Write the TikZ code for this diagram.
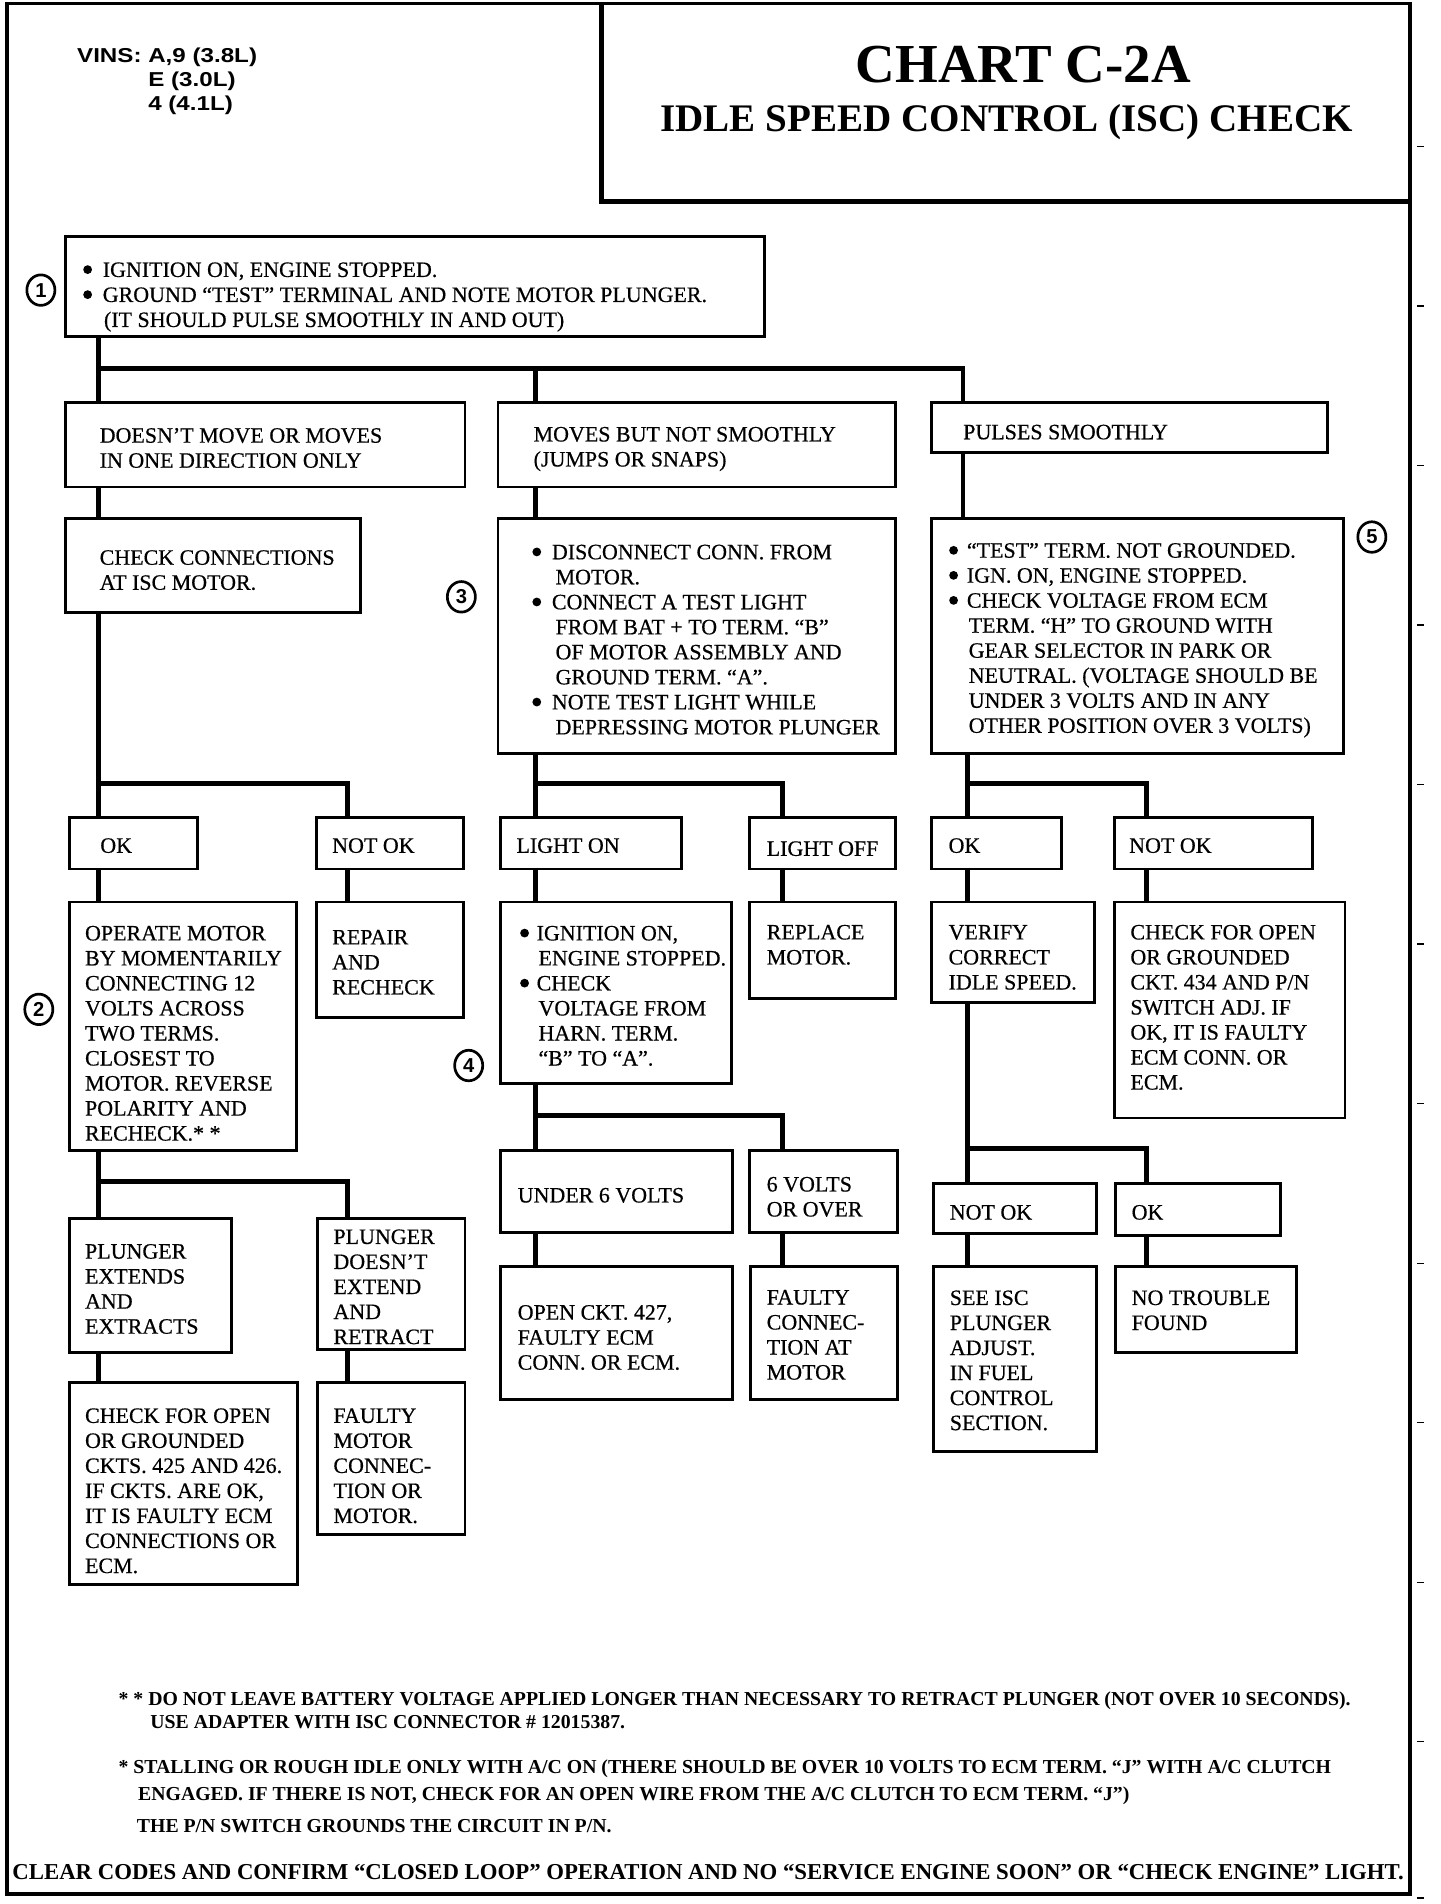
\documentclass[tikz,border=0pt]{standalone}
\usepackage{fontspec}
\usepackage{graphicx}
\setmainfont{Liberation Serif}
\newfontfamily\boxfont{Liberation Serif}[FakeBold=0.5]
\newfontfamily\hv{Liberation Sans}
\newfontfamily\vinsfont{Liberation Sans}[FakeStretch=1.2]
\usetikzlibrary{calc,shapes.geometric}

\newcommand{\bx}[5]{%
  \pgfmathsetmacro\bw{#4-#2}\pgfmathsetmacro\bh{#5-#3}%
  \pgfmathsetmacro\bcx{(#2+#4)/2}\pgfmathsetmacro\bcy{(#3+#5)/2}%
  \node[box, minimum width=\bw pt, minimum height=\bh pt] (#1) at (\bcx,\bcy) {};}
\newcommand{\tx}[4]{\pgfmathsetmacro\ty{#3-10}\node[txt] (#1) at (#2,\ty) {\rule{0pt}{16pt}#4};}
\newcommand{\bul}[1][14pt]{\makebox[#1][l]{\tikz[baseline=-6pt]\fill (3.6pt,0pt) circle (3.6pt);}}

\begin{document}
\begin{tikzpicture}[x=1pt,y=-1pt,
  box/.style={draw, line width=2.4pt, inner sep=0pt, outer sep=0pt},
  conn/.style={line width=4pt},
  txt/.style={inner sep=0pt, anchor=north west, align=left, font=\boxfont\fontsize{18}{20.5}\selectfont},
  circ/.style={ellipse, draw, line width=2.2pt, minimum width=23pt, minimum height=25pt, inner sep=0pt, font=\hv\bfseries\fontsize{16.5}{16.5}\selectfont},
  foot/.style={inner sep=0pt, anchor=base west, font=\fontsize{16.2}{18}\selectfont\bfseries},
  tickmark/.style={line width=1pt}]
\useasboundingbox (0,0) rectangle (1180,1560);
\path[fill=white] (0,0) rectangle (1180,1560);

% frame and title box
\draw[line width=3pt] (6,3) rectangle (1155,1552);
\draw[line width=4pt] (493,3) -- (493,165) -- (1155,165);
\foreach \k in {0,...,10} \draw[tickmark] (1161,{120+130.7*\k}) -- (1167,{120+130.7*\k});
\draw[tickmark] (1161,1555) -- (1167,1555);

\node[inner sep=0pt, anchor=base west, font=\fontsize{45}{50}\selectfont\bfseries] (title) at (701,68) {CHART C-2A};
\node[inner sep=0pt, anchor=base west, font=\fontsize{32}{36}\selectfont\bfseries] (subtitle) at (541,107.5) {IDLE SPEED CONTROL (ISC) CHECK};
\node[inner sep=0pt, anchor=north west, align=left, font=\vinsfont\bfseries\fontsize{16.5}{19.5}\selectfont] (vins) at (63,37) {\rule{0pt}{14pt}VINS: A,9 (3.8L)\\\phantom{VINS: }E (3.0L)\\\phantom{VINS: }4 (4.1L)};

% boxes
\bx{b1}{54}{194}{626}{276}
\bx{bA}{54}{330}{381}{399}
\bx{bB}{408}{330}{734}{399}
\bx{bC}{763}{330}{1088}{371}
\bx{bD}{54}{425}{295}{502}
\bx{bE}{408}{425}{734}{617}
\bx{bF}{763}{425}{1101}{617}
\bx{bOK1}{57}{670}{162}{712}
\bx{bNOK1}{259}{670}{380}{712}
\bx{bLON}{410}{670}{558}{712}
\bx{bLOFF}{614}{670}{734}{712}
\bx{bOK2}{763}{670}{870}{712}
\bx{bNOK2}{913}{670}{1075}{712}
\bx{bOP}{57}{739}{243}{943}
\bx{bREP}{259}{739}{380}{834}
\bx{bIGN}{410}{739}{599}{888}
\bx{bREPL}{614}{739}{734}{818}
\bx{bVER}{763}{739}{897}{821}
\bx{bCHK2}{913}{739}{1102}{916}
\bx{bPE}{57}{998}{190}{1108}
\bx{bPD}{260}{998}{381}{1106}
\bx{bU6}{410}{943}{600}{1010}
\bx{b6V}{614}{943}{735}{1010}
\bx{bNOK3}{765}{970}{898}{1011}
\bx{bOK3}{914}{970}{1049}{1012}
\bx{bCHK3}{57}{1133}{244}{1298}
\bx{bFM}{260}{1133}{381}{1257}
\bx{bOPEN}{410}{1038}{600}{1147}
\bx{bFC}{615}{1038}{735}{1147}
\bx{bSEE}{765}{1038}{898}{1189}
\bx{bNT}{914}{1038}{1062}{1108}

% connectors
\coordinate (J0) at (81,302); \coordinate (J0M) at (439,302); \coordinate (J0R) at (789,302);
\draw[conn] (b1.south -| J0) -- (bA.north -| J0);
\draw[conn] (J0) -- (J0R) -- (bC.north -| J0R);
\draw[conn] (J0M) -- (bB.north -| J0M);
\draw[conn] (bA.south -| J0) -- (bD.north -| J0);
\draw[conn] (bB.south -| J0M) -- (bE.north -| J0M);
\draw[conn] (bC.south -| J0R) -- (bF.north -| J0R);
\coordinate (J1) at (81,642); \coordinate (J1R) at (285,642);
\draw[conn] (bD.south -| J1) -- (bOK1.north -| J1);
\draw[conn] (J1) -- (J1R) -- (bNOK1.north -| J1R);
\coordinate (J2) at (439,642); \coordinate (J2R) at (641,642);
\draw[conn] (bE.south -| J2) -- (bLON.north -| J2);
\draw[conn] (J2) -- (J2R) -- (bLOFF.north -| J2R);
\coordinate (J3) at (793,642); \coordinate (J3R) at (939,642);
\draw[conn] (bF.south -| J3) -- (bOK2.north -| J3);
\draw[conn] (J3) -- (J3R) -- (bNOK2.north -| J3R);
\draw[conn] (bOK1.south -| J1) -- (bOP.north -| J1);
\draw[conn] (bNOK1.south -| J1R) -- (bREP.north -| J1R);
\draw[conn] (bLON.south -| J2) -- (bIGN.north -| J2);
\draw[conn] (bLOFF.south -| J2R) -- (bREPL.north -| J2R);
\draw[conn] (bOK2.south -| J3) -- (bVER.north -| J3);
\draw[conn] (bNOK2.south -| J3R) -- (bCHK2.north -| J3R);
\coordinate (J4) at (81,968); \coordinate (J4R) at (285,968);
\draw[conn] (bOP.south -| J4) -- (bPE.north -| J4);
\draw[conn] (J4) -- (J4R) -- (bPD.north -| J4R);
\coordinate (J5) at (439,914); \coordinate (J5R) at (641,914);
\draw[conn] (bIGN.south -| J5) -- (bU6.north -| J5);
\draw[conn] (J5) -- (J5R) -- (b6V.north -| J5R);
\coordinate (J6) at (793,941); \coordinate (J6R) at (939,941);
\draw[conn] (bVER.south -| J6) -- (bNOK3.north -| J6);
\draw[conn] (J6) -- (J6R) -- (bOK3.north -| J6R);
\draw[conn] (bPE.south -| J4) -- (bCHK3.north -| J4);
\draw[conn] (bPD.south -| J4R) -- (bFM.north -| J4R);
\draw[conn] (bU6.south -| J5) -- (bOPEN.north -| J5);
\draw[conn] (b6V.south -| J5R) -- (bFC.north -| J5R);
\draw[conn] (bNOK3.south -| J6) -- (bSEE.north -| J6);
\draw[conn] (bOK3.south -| J6R) -- (bNT.north -| J6R);

% texts
\tx{t1}{68}{220.7}{\bul[16pt]IGNITION ON, ENGINE STOPPED.\\\bul[16pt]GROUND “TEST” TERMINAL AND NOTE MOTOR PLUNGER.\\\hspace*{17pt}(IT SHOULD PULSE SMOOTHLY IN AND OUT)}
\tx{tA}{81.5}{356.5}{DOESN’T MOVE OR MOVES\\IN ONE DIRECTION ONLY}
\tx{tB}{437}{355.5}{MOVES BUT NOT SMOOTHLY\\(JUMPS OR SNAPS)}
\tx{tC}{789}{353.7}{PULSES SMOOTHLY}
\tx{tD}{81.5}{456.5}{CHECK CONNECTIONS\\AT ISC MOTOR.}
\tx{tE}{436}{452}{\bul[16pt]DISCONNECT CONN. FROM\\\hspace*{19pt}MOTOR.\\\bul[16pt]CONNECT A TEST LIGHT\\\hspace*{19pt}FROM BAT + TO TERM. “B”\\\hspace*{19pt}OF MOTOR ASSEMBLY AND\\\hspace*{19pt}GROUND TERM. “A”.\\\bul[16pt]NOTE TEST LIGHT WHILE\\\hspace*{19pt}DEPRESSING MOTOR PLUNGER}
\tx{tF}{777.5}{450.7}{\bul[14.5pt]“TEST” TERM. NOT GROUNDED.\\\bul[14.5pt]IGN. ON, ENGINE STOPPED.\\\bul[14.5pt]CHECK VOLTAGE FROM ECM\\\hspace*{16pt}TERM. “H” TO GROUND WITH\\\hspace*{16pt}GEAR SELECTOR IN PARK OR\\\hspace*{16pt}NEUTRAL. (VOLTAGE SHOULD BE\\\hspace*{16pt}UNDER 3 VOLTS AND IN ANY\\\hspace*{16pt}OTHER POSITION OVER 3 VOLTS)}
\tx{tOK1}{82}{692.5}{OK}
\tx{tNOK1}{272}{692.5}{NOT OK}
\tx{tLON}{423}{692.5}{LIGHT ON}
\tx{tLOFF}{628}{695}{LIGHT OFF}
\tx{tOK2}{777}{692.5}{OK}
\tx{tNOK2}{925}{692.5}{NOT OK}
\tx{tOP}{69.5}{764.3}{OPERATE MOTOR\\BY MOMENTARILY\\CONNECTING 12\\VOLTS ACROSS\\TWO TERMS.\\CLOSEST TO\\MOTOR. REVERSE\\POLARITY AND\\RECHECK.* *}
\tx{tREP}{272}{767.6}{REPAIR\\AND\\RECHECK}
\tx{tIGN}{426}{764.3}{\bul[13.5pt]IGNITION ON,\\\hspace*{15pt}ENGINE STOPPED.\\\bul[13.5pt]CHECK\\\hspace*{15pt}VOLTAGE FROM\\\hspace*{15pt}HARN. TERM.\\\hspace*{15pt}“B” TO “A”.}
\tx{tREPL}{628}{763.5}{REPLACE\\MOTOR.}
\tx{tVER}{777}{763.5}{VERIFY\\CORRECT\\IDLE SPEED.}
\tx{tCHK2}{926}{763.5}{CHECK FOR OPEN\\OR GROUNDED\\CKT. 434 AND P/N\\SWITCH ADJ. IF\\OK, IT IS FAULTY\\ECM CONN. OR\\ECM.}
\tx{tPE}{69.5}{1025}{PLUNGER\\EXTENDS\\AND\\EXTRACTS}
\tx{tPD}{273}{1013}{PLUNGER\\DOESN’T\\EXTEND\\AND\\RETRACT}
\tx{tU6}{424}{979}{UNDER 6 VOLTS}
\tx{t6V}{628}{970}{6 VOLTS\\OR OVER}
\tx{tNOK3}{778}{993}{NOT OK}
\tx{tOK3}{927}{993}{OK}
\tx{tCHK3}{69.5}{1159.6}{CHECK FOR OPEN\\OR GROUNDED\\CKTS. 425 AND 426.\\IF CKTS. ARE OK,\\IT IS FAULTY ECM\\CONNECTIONS OR\\ECM.}
\tx{tFM}{273}{1159.6}{FAULTY\\MOTOR\\CONNEC-\\TION OR\\MOTOR.}
\tx{tOPEN}{424}{1075}{OPEN CKT. 427,\\FAULTY ECM\\CONN. OR ECM.}
\tx{tFC}{628}{1062.6}{FAULTY\\CONNEC-\\TION AT\\MOTOR}
\tx{tSEE}{778}{1063}{SEE ISC\\PLUNGER\\ADJUST.\\IN FUEL\\CONTROL\\SECTION.}
\tx{tNT}{927}{1063}{NO TROUBLE\\FOUND}

% circled step numbers
\node[circ] (n1) at (33.5,237.7) {1};
\node[circ] (n2) at (31.8,827) {2};
\node[circ] (n3) at (378,489) {3};
\node[circ] (n4) at (384,873) {4};
\node[circ] (n5) at (1124,440) {5};

% notes
\node[foot] (f1) at (97,1397) {* * DO NOT LEAVE BATTERY VOLTAGE APPLIED LONGER THAN NECESSARY TO RETRACT PLUNGER (NOT OVER 10 SECONDS).};
\node[foot] (f2) at (123,1416.3) {USE ADAPTER WITH ISC CONNECTOR \# 12015387.};
\node[foot] (f3) at (97,1453) {* STALLING OR ROUGH IDLE ONLY WITH A/C ON (THERE SHOULD BE OVER 10 VOLTS TO ECM TERM. “J” WITH A/C CLUTCH};
\node[foot] (f4) at (113,1475) {ENGAGED. IF THERE IS NOT, CHECK FOR AN OPEN WIRE FROM THE A/C CLUTCH TO ECM TERM. “J”)};
\node[foot] (f5) at (112,1501.5) {THE P/N SWITCH GROUNDS THE CIRCUIT IN P/N.};
\node[inner sep=0pt, anchor=base west, font=\bfseries] (footer) at (10,1540) {\resizebox{1140pt}{!}{CLEAR CODES AND CONFIRM “CLOSED LOOP” OPERATION AND NO “SERVICE ENGINE SOON” OR “CHECK ENGINE” LIGHT.}};
\end{tikzpicture}
\end{document}
